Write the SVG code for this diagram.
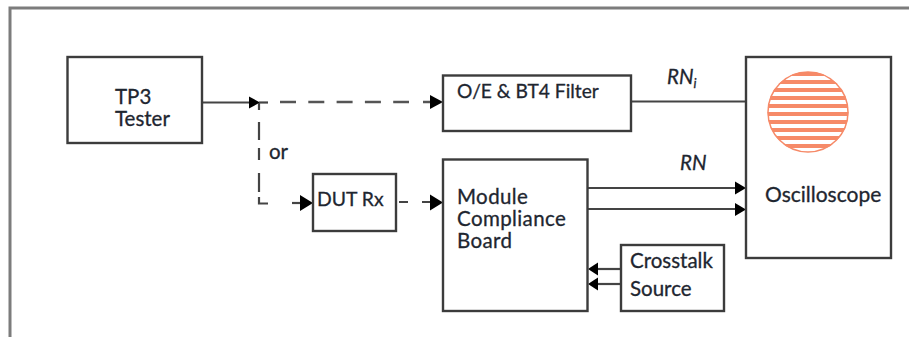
<svg xmlns="http://www.w3.org/2000/svg" width="909" height="337" viewBox="0 0 909 337">
<style>
.box{fill:#fff;stroke:#3c3c3c;stroke-width:2.400}
.t{font-family:"Lato","Open Sans",sans-serif;font-size:20.500px;fill:#1e2630;stroke:#1e2630;stroke-width:.3}
.m{letter-spacing:.4px}
.i{font-style:italic}
.c{fill:none;stroke:#444;stroke-width:2.200}
.d{stroke-dasharray:16 12.300;stroke:#555;stroke-width:2.500}
.h{fill:#000}
</style>
<defs>
<clipPath id="disc"><circle cx="808" cy="112" r="40.500"/></clipPath>
</defs>
<rect width="909" height="337" fill="#fff"/>
<path id="frame" d="M10 337V8H909" fill="none" stroke="#7c7c7c" stroke-width="3"/>
<g id="connectors">
<path class="c" d="M202 102.500H252"/>
<path class="h" d="M249 96.500L260 102.500L249 108.500Z"/>
<path class="c" d="M259 102.500H268"/>
<path class="c d" d="M280 102H409M423 102H432"/>
<path class="h" d="M430 95L443 102L430 109Z"/>
<path class="c" d="M259 103V110M259 122V140M259 148V160M259 173V192M259 197V203.500H268"/>
<path class="c" d="M292 203H302"/>
<path class="h" d="M300 195L313 203L300 211Z"/>
<path class="c" d="M399 202H408M422 202H432"/>
<path class="h" d="M430 194.500L443 202.500L430 210.500Z"/>
<path class="c" d="M631 101.500H746"/>
<path class="c" d="M587 188H738"/>
<path class="h" d="M735 181.500L746 188L735 194.500Z"/>
<path class="c" d="M587 209H738"/>
<path class="h" d="M735 203L746 209.500L735 216Z"/>
<path class="c" d="M621 269H596"/>
<path class="h" d="M598 262.500L588 269L598 275.500Z"/>
<path class="c" d="M621 284H596"/>
<path class="h" d="M598 277.500L588 284L598 290.500Z"/>
</g>
<g id="tp3-tester">
<rect class="box" x="67.500" y="57" width="134.500" height="86"/>
<text class="t" x="115" y="104">TP3</text>
<text class="t" x="115" y="126">Tester</text>
</g>
<g id="or-label"><text class="t" x="269" y="159">or</text></g>
<g id="oe-filter">
<rect class="box" x="443" y="75.500" width="188" height="55.500"/>
<text class="t" x="457" y="98" style="font-size:19.200px">O/E &amp; BT4 Filter</text>
</g>
<g id="dut-rx">
<rect class="box" x="313" y="174" width="83" height="57"/>
<text class="t" x="317" y="206" style="font-size:19.400px">DUT Rx</text>
</g>
<g id="module-board">
<rect class="box" x="443" y="159.500" width="144.500" height="151.500"/>
<text class="t m" x="457" y="204">Module</text>
<text class="t m" x="457" y="226">Compliance</text>
<text class="t m" x="457" y="248">Board</text>
</g>
<g id="crosstalk-source">
<rect class="box" x="621" y="245" width="103" height="66"/>
<text class="t" x="630" y="268">Crosstalk</text>
<text class="t" x="630" y="296">Source</text>
</g>
<g id="oscilloscope">
<rect class="box" x="746" y="57" width="145" height="201"/>
<circle cx="808" cy="112" r="40" fill="#fff" stroke="#f68a68" stroke-width="1.500"/>
<g clip-path="url(#disc)" stroke="#f68a68" stroke-width="4.200">
<path d="M760 74H856M760 82H856M760 90H856M760 98H856M760 106H856M760 114H856M760 122H856M760 130H856M760 138H856M760 146H856"/>
</g>
<text class="t" x="765" y="201.500" style="font-size:21px">Oscilloscope</text>
</g>
<g id="labels">
<text class="t i" x="667" y="84">RN<tspan font-size="13" dy="4">i</tspan></text>
<text class="t i" x="680" y="170">RN</text>
</g>
</svg>
